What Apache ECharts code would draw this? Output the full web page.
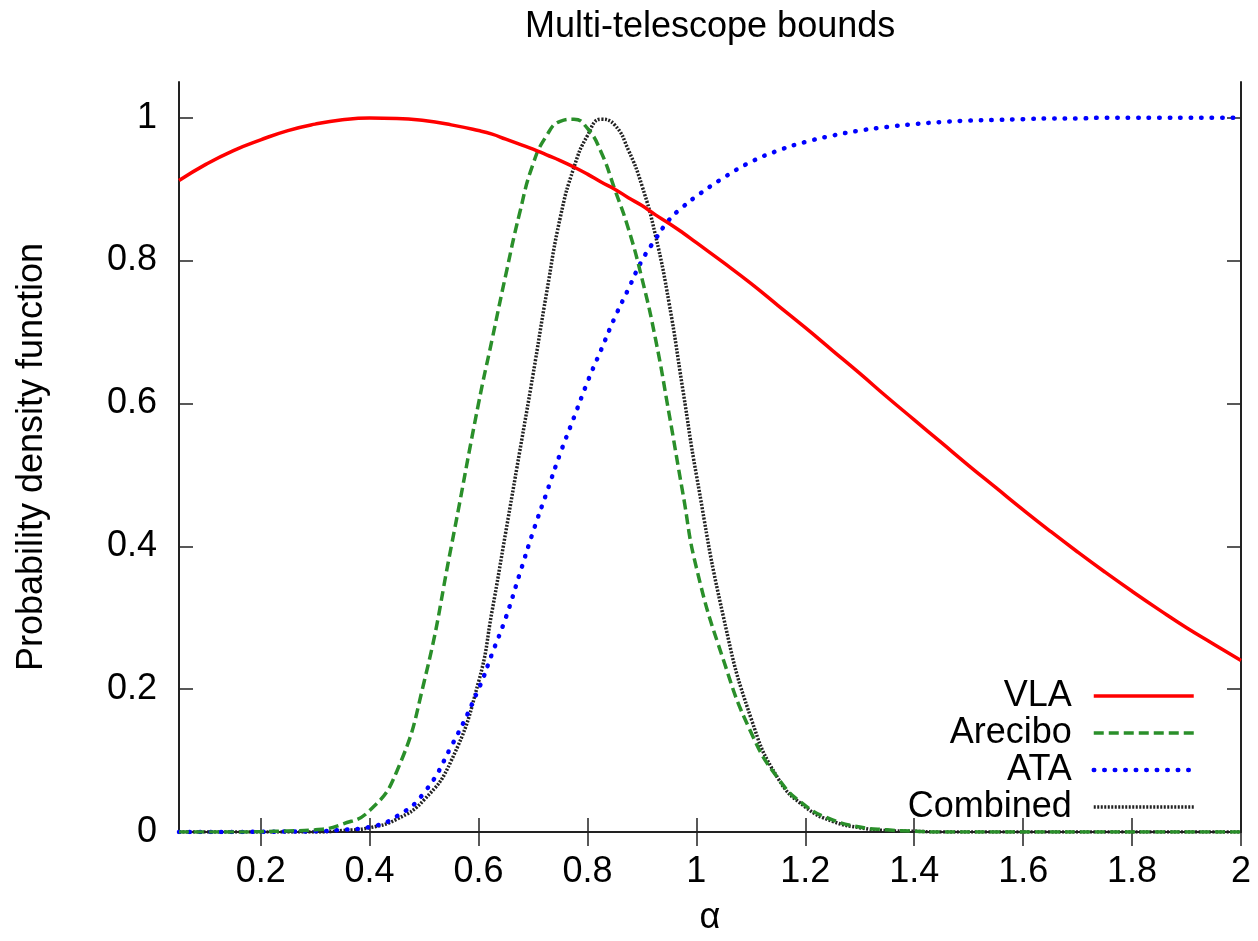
<!DOCTYPE html>
<html>
<head>
<meta charset="utf-8">
<script src="https://cdn.jsdelivr.net/npm/echarts@6/dist/echarts.min.js"></script>
<style>
html,body{margin:0;padding:0;background:#fff;}
#chart{width:1258px;height:941px;}
</style>
</head>
<body>
<div id="chart"></div>
<script>
const alpha = [0.05,0.10,0.15,0.20,0.25,0.30,0.35,0.40,0.45,0.50,0.55,0.60,
               0.625,0.65,0.675,0.70,0.725,0.75,0.775,0.80,0.825,0.85,0.875,0.90,0.925,0.95,0.975,1.00,
               1.05,1.10,1.15,1.20,1.25,1.30,1.35,1.40,1.45,1.50,1.55,1.60,1.65,1.70,1.75,1.80,1.85,1.90,1.95,2.00];
const vla = [0.912,0.935,0.954,0.969,0.982,0.991,0.997,0.9995,0.999,0.996,0.990,0.982,
             0.977,0.970,0.963,0.956,0.948,0.940,0.931,0.921,0.910,0.900,0.888,0.877,0.864,0.852,0.839,0.825,
             0.797,0.768,0.737,0.706,0.674,0.642,0.609,0.577,0.545,0.513,0.482,0.451,0.421,0.392,0.364,0.337,0.311,0.286,0.263,0.240];
const arecibo = [0,0,0,0.0005,0.0015,0.003,0.011,0.030,0.085,0.21,0.40,0.60,
                 0.69,0.78,0.865,0.935,0.975,0.995,0.998,0.985,0.952,0.90,0.845,0.775,0.69,0.585,0.475,0.37,
                 0.24,0.14,0.075,0.037,0.017,0.007,0.003,0.001,0,0,0,0,0,0,0,0,0,0,0,0];
const ata = [0,0,0,0.0003,0.0006,0.001,0.003,0.007,0.022,0.055,0.12,0.20,
             0.25,0.30,0.36,0.42,0.475,0.53,0.58,0.63,0.675,0.72,0.76,0.80,0.83,0.857,0.875,0.89,
             0.916,0.938,0.954,0.966,0.975,0.982,0.987,0.991,0.994,0.996,0.997,0.998,0.999,0.999,1,1,1,1,1,1];
const combined = [0,0,0,0,0,0,0.002,0.006,0.018,0.045,0.10,0.21,
                  0.31,0.42,0.53,0.64,0.755,0.86,0.93,0.975,0.998,0.99,0.955,0.905,0.835,0.74,0.62,0.50,
                  0.30,0.16,0.075,0.035,0.015,0.006,0.002,0.001,0,0,0,0,0,0,0,0,0,0,0,0];
const xTicks = [0.2,0.4,0.6,0.8,1.0,1.2,1.4,1.6,1.8,2.0];
const yTicks = [0,0.2,0.4,0.6,0.8,1.0];
const seriesNames = ['VLA','Arecibo','ATA','Combined'];

const FONT = 'Liberation Sans';
const FS = 36;
const frame = {show:true, lineStyle:{color:'#222', width:2}};
const tickStyle = {color:'#222', width:1.5};
const pair = arr => alpha.map((a,i)=>[a, arr[i]]);

const styles = [
  {color:'#ff0000', width:3.5, type:'solid', cap:'butt'},
  {color:'#2a8f2a', width:3.5, type:[10,5], cap:'butt'},
  {color:'#0000ff', width:4.5, type:[0.5,10], cap:'round'},
  {color:'#222222', width:3.5, type:[2,1.5], cap:'butt'}
];
const datas = [vla, arecibo, ata, combined];

const chart = echarts.init(document.getElementById('chart'), null, {renderer:'canvas'});
chart.setOption({
  animation:false,
  backgroundColor:'#fff',
  textStyle:{fontFamily:FONT},
  title:{text:'Multi-telescope bounds', left:525, top:9, padding:0,
    textStyle:{fontFamily:FONT, fontSize:FS, fontWeight:'normal', color:'#000'}},
  grid:{left:179, right:17, top:82, bottom:107, containLabel:false},
  legend:{
    orient:'vertical', align:'right', right:62, top:678, padding:0,
    itemWidth:100, itemHeight:14, itemGap:1,
    itemStyle:{opacity:0, borderWidth:0},
    textStyle:{fontFamily:FONT, fontSize:FS, color:'#000', padding:[0,17,0,0]},
    data: seriesNames.map((n,i)=>({name:n,
      itemStyle:{opacity:0, borderWidth:0},
      lineStyle:{color:styles[i].color, width:styles[i].width, type:styles[i].type, cap:styles[i].cap}}))
  },
  xAxis:[{
    type:'value', min:0.05, max:2, position:'bottom',
    name:'α', nameLocation:'middle', nameGap:68,
    nameTextStyle:{fontFamily:FONT, fontSize:FS, color:'#000'},
    axisLine:frame,
    axisTick:{show:true, inside:true, length:14, customValues:xTicks, lineStyle:tickStyle},
    axisLabel:{show:true, customValues:xTicks, margin:22, fontFamily:FONT, fontSize:FS, color:'#000',
      formatter:v=>String(Math.round(v*10)/10)},
    splitLine:{show:false}
  },{
    type:'value', min:0.05, max:2, position:'top',
    axisLine:frame,
    axisTick:{show:true, inside:true, length:14, customValues:xTicks, lineStyle:tickStyle},
    axisLabel:{show:false}, splitLine:{show:false}
  }],
  yAxis:[{
    type:'value', min:0, max:1.05, position:'left',
    name:'Probability density function', nameLocation:'middle', nameGap:129, nameRotate:90,
    nameTextStyle:{fontFamily:FONT, fontSize:FS, color:'#000'},
    axisLine:frame,
    axisTick:{show:true, inside:true, length:14, customValues:yTicks, lineStyle:tickStyle},
    axisLabel:{show:true, customValues:yTicks, margin:22, fontFamily:FONT, fontSize:FS, color:'#000',
      formatter:v=>String(Math.round(v*10)/10)},
    splitLine:{show:false}
  },{
    type:'value', min:0, max:1.05, position:'right',
    axisLine:frame,
    axisTick:{show:true, inside:true, length:14, customValues:yTicks, lineStyle:tickStyle},
    axisLabel:{show:false}, splitLine:{show:false}
  }],
  series: seriesNames.map((n,i)=>({
    name:n, type:'line', xAxisIndex:0, yAxisIndex:0,
    data:pair(datas[i]), symbol:'none', showSymbol:false, smooth:0.5,
    lineStyle:{color:styles[i].color, width:styles[i].width, type:styles[i].type, cap:styles[i].cap},
    itemStyle:{color:styles[i].color},
    z: 10 - i
  }))
});
</script>
</body>
</html>
